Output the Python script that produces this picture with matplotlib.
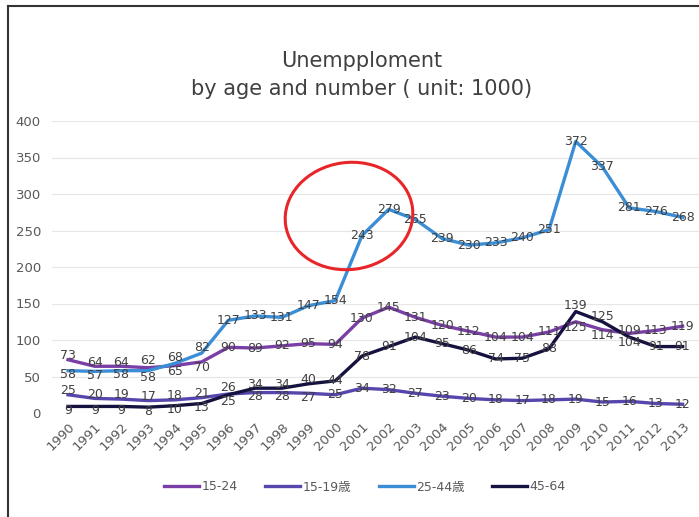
import matplotlib
matplotlib.use("Agg")
import matplotlib.pyplot as plt
from matplotlib.patches import Ellipse
from matplotlib.lines import Line2D
from matplotlib.transforms import IdentityTransform

plt.rcParams['font.family'] = ['DejaVu Sans', 'Noto Sans CJK JP']

years = list(range(1990, 2014))
s_15_24 = [73, 64, 64, 62, 65, 70, 90, 89, 92, 95, 94, 130, 145, 131, 120, 112, 104, 104, 111, 125, 114, 109, 113, 119]
s_15_19 = [25, 20, 19, 17, 18, 21, 26, 28, 28, 27, 25, 34, 32, 27, 23, 20, 18, 17, 18, 19, 15, 16, 13, 12]
s_25_44 = [58, 57, 58, 58, 68, 82, 127, 133, 131, 147, 154, 243, 279, 265, 239, 230, 233, 240, 251, 372, 337, 281, 276, 268]
s_45_64 = [9, 9, 9, 8, 10, 13, 25, 34, 34, 40, 44, 78, 91, 104, 95, 86, 74, 75, 88, 139, 125, 104, 91, 91]

series_names = ['15-24', '15-19歳', '25-44歳', '45-64']
series_vals = [s_15_24, s_15_19, s_25_44, s_45_64]
colors = ['#7a3fa6', '#5646ad', '#3b8ed6', '#15123f']

title = "Unempploment\nby age and number ( unit: 1000)"

W, H = 699, 517
fig = plt.figure(figsize=(W / 100, H / 100), dpi=100)
ax = fig.add_axes([52 / W, (517 - 413) / H, (712 - 52) / W, (413 - 121) / H])
ax.set_xlim(1989.4, 2014.1)
ax.set_ylim(0, 400)

for name, vals, c in zip(series_names, series_vals, colors):
    ax.plot(years, vals, color=c, lw=2.4, solid_joinstyle='round', zorder=3, label=name)

# small vertical nudges (points) for crowded labels
def nudge(si, yr):
    if si == 0 and yr <= 1993:
        return 3 if yr < 1993 else 5
    if si == 2 and yr <= 1993:
        return -3 if yr < 1993 else -5
    if si == 0 and yr in (1994, 1995):
        return -4
    if si == 2 and yr in (1994, 1995):
        return 4
    if si == 1 and yr <= 1996:
        return 3 if yr < 1996 else 5
    if si == 3 and yr <= 1996:
        return -3 if yr < 1996 else -5
    if si == 3 and 1997 <= yr <= 1999:
        return 3
    if si == 1 and 1997 <= yr <= 1999:
        return -3
    if si == 3 and yr in (2009, 2010):
        return 4
    if si == 0 and yr in (2009, 2010):
        return -4
    if si == 3 and yr == 2011:
        return -4
    if si == 0 and yr == 2011:
        return 2
    return 0

for si, vals in enumerate(series_vals):
    for x, v in zip(years, vals):
        ax.annotate(str(v), (x, v), xytext=(0, nudge(si, x)), textcoords='offset points',
                    ha='center', va='center', fontsize=9, color='#404040', zorder=4)

ax.set_yticks(range(0, 401, 50))
ax.set_xticks(years)
ax.set_xticklabels([str(y) for y in years], rotation=45, ha='right', rotation_mode='anchor')
ax.tick_params(axis='both', length=0, colors='#595959', labelsize=9.5)
ax.tick_params(axis='y', pad=8)
ax.tick_params(axis='x', pad=5)
ax.grid(axis='y', color='#e6e6e6', lw=0.8)
ax.set_axisbelow(True)
for sp in ax.spines.values():
    sp.set_visible(False)

fig.text(362 / W, 1 - 75 / H, title, ha='center', va='center', fontsize=15,
         color='#404040', linespacing=1.5)

handles = [Line2D([0], [0], color=c, lw=2.4) for c in colors]
fig.legend(handles, series_names, loc='center', bbox_to_anchor=(365 / W, 1 - 487 / H),
           ncol=4, frameon=False, fontsize=9, handlelength=2.8, columnspacing=2.2,
           handletextpad=0.2, labelcolor='#595959')

ell = Ellipse((349, H - 216), 128, 107, angle=8, fill=False, edgecolor='#e8262a', lw=2.2,
              transform=IdentityTransform(), zorder=10)
fig.patches.append(ell)

# frame lines (screenshot border)
fig.add_artist(Line2D([8 / W, 8 / W], [0, 1 - 6 / H], color='#333333', lw=1.5, transform=fig.transFigure))
fig.add_artist(Line2D([8 / W, 1], [1 - 6 / H, 1 - 6 / H], color='#333333', lw=1.5, transform=fig.transFigure))

fig.savefig("out.png", dpi=100)
